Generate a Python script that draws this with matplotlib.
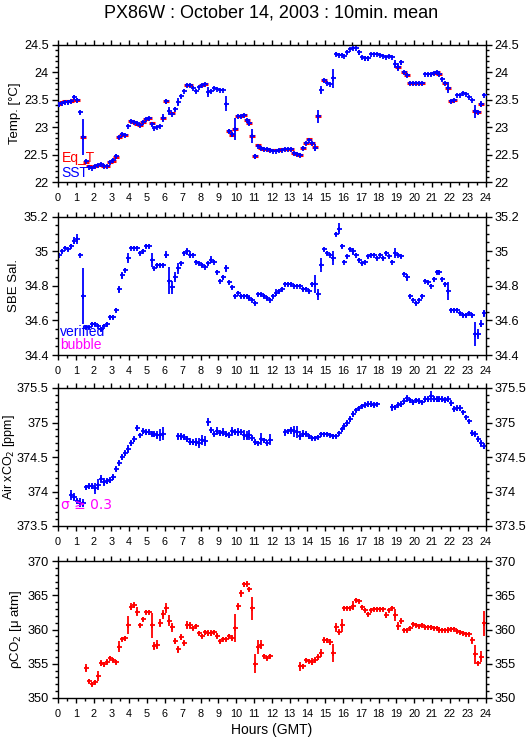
import numpy as np
import matplotlib
matplotlib.use("Agg")
import matplotlib.pyplot as plt
from matplotlib.ticker import MultipleLocator, FuncFormatter

N = None
# 10-minute slots (centre times in hours GMT)
hours = [i / 6 + 1 / 12 for i in range(144)]

sst = [23.42, 23.44, 23.46, 23.46, 23.48, 23.55, 23.50, 23.27, 22.82, 22.38, 22.28, 22.26,
       22.30, 22.32, 22.33, 22.29, 22.30, 22.36, 22.40, 22.47, 22.82, 22.87, 22.86, 23.03,
       23.11, 23.10, 23.07, 23.05, 23.09, 23.15, 23.17, 23.06, 22.99, 23.01, 23.02, 23.17,
       23.47, 23.30, 23.25, 23.33, 23.46, 23.56, 23.66, 23.77, 23.76, 23.72, 23.65, 23.73,
       23.77, 23.79, 23.64, 23.65, 23.72, 23.70, 23.67, 23.67, 23.43, 22.93, 22.87, 22.97,
       23.20, 23.21, 23.22, 23.13, 23.08, 22.84, 22.47, 22.66, 22.63, 22.61, 22.60, 22.58,
       22.57, 22.57, 22.58, 22.59, 22.60, 22.60, 22.60, 22.53, 22.51, 22.50, 22.63, 22.71,
       22.77, 22.71, 22.63, 23.20, 23.68, 23.85, 23.80, 23.78, 23.89, 24.33, 24.32, 24.32,
       24.30, 24.37, 24.42, 24.44, 24.44, 24.36, 24.27, 24.25, 24.25, 24.33, 24.33, 24.33,
       24.32, 24.30, 24.27, 24.30, 24.28, 24.15, 24.10, 24.18, 24.01, 23.95, 23.81, 23.81,
       23.81, 23.81, 23.81, 23.97, 23.96, 23.96, 23.99, 24.01, 23.97, 23.88, 23.81, 23.72,
       23.48, 23.49, 23.58, 23.58, 23.62, 23.60, 23.55, 23.50, 23.29, 23.27, 23.42, 23.59]

sst_err = [0.02, 0.02, 0.02, 0.03, 0.02, 0.04, 0.03, 0.03, 0.33, 0.02, 0.02, 0.02,
           0.02, 0.02, 0.02, 0.02, 0.02, 0.02, 0.02, 0.05, 0.02, 0.02, 0.02, 0.02,
           0.02, 0.02, 0.02, 0.02, 0.02, 0.02, 0.02, 0.03, 0.03, 0.02, 0.02, 0.07,
           0.04, 0.07, 0.03, 0.03, 0.08, 0.03, 0.02, 0.02, 0.02, 0.02, 0.03, 0.02,
           0.02, 0.02, 0.09, 0.03, 0.02, 0.02, 0.02, 0.02, 0.14, 0.03, 0.04, 0.20,
           0.02, 0.02, 0.02, 0.02, 0.03, 0.12, 0.04, 0.02, 0.02, 0.02, 0.02, 0.02,
           0.02, 0.02, 0.02, 0.02, 0.02, 0.02, 0.02, 0.02, 0.02, 0.03, 0.03, 0.02,
           0.02, 0.02, 0.06, 0.12, 0.07, 0.02, 0.02, 0.02, 0.17, 0.03, 0.03, 0.03,
           0.02, 0.03, 0.02, 0.02, 0.02, 0.04, 0.03, 0.04, 0.04, 0.02, 0.02, 0.02,
           0.02, 0.02, 0.02, 0.02, 0.02, 0.07, 0.07, 0.05, 0.02, 0.03, 0.02, 0.02,
           0.02, 0.02, 0.02, 0.02, 0.02, 0.02, 0.02, 0.02, 0.02, 0.04, 0.02, 0.10,
           0.02, 0.02, 0.02, 0.02, 0.02, 0.02, 0.02, 0.02, 0.12, 0.02, 0.06, 0.02]

eq_t = [23.43, 23.45, 23.47, 23.47, 23.48, 23.50, 23.49, N, 22.82, 22.36, 22.29, 22.27,
        22.30, 22.32, 22.32, 22.30, 22.30, 22.37, 22.39, 22.46, 22.82, 22.86, 22.86, N,
        23.11, 23.09, 23.06, 23.04, 23.09, 23.15, 23.17, 23.07, N, N, N, 23.17,
        23.47, N, 23.26, N, N, N, N, 23.77, 23.76, N, N, N,
        23.77, 23.78, N, N, N, N, N, N, N, 22.93, 22.86, 22.96,
        23.20, 23.21, 23.22, 23.13, 23.08, 22.84, 22.47, 22.67, 22.63, 22.61, 22.60, 22.59,
        22.58, 22.58, 22.59, 22.60, 22.60, 22.60, 22.60, 22.54, 22.51, 22.50, 22.63, 22.71,
        22.78, 22.71, 22.64, 23.20, N, 23.85, N, N, N, N, N, N,
        N, N, N, N, N, N, N, N, N, N, N, N,
        N, N, N, N, N, N, 24.10, N, 24.01, 23.95, 23.81, 23.81,
        23.81, 23.81, 23.81, N, N, N, 23.99, 24.01, 23.97, N, 23.81, 23.72,
        23.48, 23.49, N, N, N, N, N, N, 23.29, 23.27, 23.42, N]

sal = [34.98, 35.00, 35.02, 35.01, 35.03, 35.06, 35.07, 34.98, 34.74, 34.56, 34.56, 34.58,
       34.58, 34.57, 34.55, 34.57, 34.58, 34.62, 34.62, 34.66, 34.78, 34.86, 34.89, 34.96,
       35.02, 35.02, 35.02, 34.99, 35.00, 35.03, 35.03, 34.95, 34.90, 34.92, 34.92, 34.92,
       34.98, 34.83, 34.79, 34.85, 34.90, 34.93, 34.99, 35.00, 34.98, 34.98, 34.94, 34.93,
       34.92, 34.91, 34.93, 34.95, 34.94, 34.88, 34.83, 34.85, 34.90, 34.82, 34.79, 34.74,
       34.76, 34.74, 34.74, 34.74, 34.73, 34.72, 34.70, 34.75, 34.75, 34.74, 34.73, 34.72,
       34.74, 34.76, 34.77, 34.78, 34.81, 34.81, 34.81, 34.80, 34.80, 34.80, 34.78, 34.78,
       34.77, 34.81, 34.81, 34.75, 34.92, 35.01, 34.99, 34.98, 34.96, 35.10, 35.13, 35.03,
       34.94, 34.97, 35.01, 35.00, 34.98, 34.95, 34.93, 34.94, 34.97, 34.98, 34.98, 34.96,
       34.98, 34.96, 34.99, 34.97, 34.94, 34.99, 34.98, 34.97, 34.87, 34.85, 34.74, 34.72,
       34.70, 34.72, 34.74, 34.83, 34.82, 34.80, 34.84, 34.88, 34.88, 34.84, 34.81, 34.77,
       34.66, 34.66, 34.66, 34.64, 34.63, 34.63, 34.64, 34.63, 34.52, 34.52, 34.58, 34.64]

sal_err = [0.01, 0.01, 0.01, 0.01, 0.01, 0.02, 0.03, 0.01, 0.16, 0.01, 0.01, 0.01,
           0.01, 0.01, 0.01, 0.01, 0.01, 0.01, 0.01, 0.01, 0.02, 0.02, 0.01, 0.03,
           0.01, 0.01, 0.01, 0.01, 0.01, 0.01, 0.01, 0.04, 0.01, 0.01, 0.01, 0.01,
           0.02, 0.08, 0.04, 0.03, 0.03, 0.01, 0.01, 0.02, 0.02, 0.01, 0.01, 0.01,
           0.01, 0.01, 0.01, 0.02, 0.01, 0.01, 0.01, 0.01, 0.02, 0.01, 0.01, 0.01,
           0.01, 0.01, 0.01, 0.01, 0.01, 0.01, 0.01, 0.01, 0.01, 0.01, 0.01, 0.01,
           0.01, 0.02, 0.01, 0.01, 0.01, 0.01, 0.01, 0.01, 0.01, 0.01, 0.01, 0.01,
           0.01, 0.01, 0.05, 0.03, 0.04, 0.01, 0.01, 0.01, 0.04, 0.01, 0.03, 0.01,
           0.01, 0.01, 0.01, 0.02, 0.01, 0.01, 0.01, 0.01, 0.01, 0.01, 0.01, 0.01,
           0.01, 0.01, 0.01, 0.01, 0.01, 0.03, 0.01, 0.01, 0.01, 0.02, 0.01, 0.01,
           0.01, 0.01, 0.01, 0.01, 0.01, 0.01, 0.01, 0.01, 0.01, 0.01, 0.01, 0.05,
           0.01, 0.01, 0.01, 0.01, 0.01, 0.01, 0.01, 0.01, 0.07, 0.03, 0.02, 0.02]

xco2 = [N, N, N, N, 373.95, 373.92, 373.86, 373.84, 373.83, 374.06, 374.08, 374.08,
        374.05, 374.10, 374.18, 374.14, 374.15, 374.17, 374.21, 374.33, 374.42, 374.50, 374.56, 374.62,
        374.70, 374.76, 374.92, 374.82, 374.88, 374.86, 374.86, 374.84, 374.83, 374.82, 374.82, 374.84,
        N, N, N, N, 374.80, 374.80, 374.79, 374.76, 374.72, 374.72, 374.72, 374.70,
        374.75, 374.73, 375.01, 374.89, 374.84, 374.88, 374.85, 374.86, 374.83, 374.82, 374.87, 374.86,
        374.86, 374.86, 374.82, 374.81, 374.82, 374.78, 374.72, 374.70, 374.76, 374.74, 374.71, 374.75,
        N, N, N, N, 374.86, 374.87, 374.89, 374.87, 374.86, 374.81, 374.84, 374.84,
        374.80, 374.77, 374.77, 374.79, 374.83, 374.83, 374.83, 374.82, 374.80, 374.80, 374.85, 374.90,
        374.95, 375.00, 375.05, 375.12, 375.18, 375.21, 375.24, 375.26, 375.27, 375.27, 375.26, 375.27,
        N, N, N, N, 375.22, 375.22, 375.26, 375.27, 375.31, 375.35, 375.32, 375.29,
        375.32, 375.31, 375.30, 375.34, 375.34, 375.38, 375.34, 375.34, 375.34, 375.34, 375.33, 375.34,
        375.28, 375.20, 375.21, 375.21, 375.15, 375.08, 375.02, 374.85, 374.84, 374.76, 374.70, 374.66]

xco2_err = [0.04, 0.04, 0.04, 0.04, 0.07, 0.06, 0.04, 0.06, 0.06, 0.04, 0.04, 0.04,
            0.08, 0.08, 0.06, 0.06, 0.04, 0.04, 0.04, 0.04, 0.04, 0.04, 0.04, 0.06,
            0.04, 0.04, 0.05, 0.03, 0.04, 0.04, 0.04, 0.04, 0.04, 0.06, 0.09, 0.09,
            0.04, 0.04, 0.04, 0.04, 0.05, 0.05, 0.04, 0.04, 0.05, 0.04, 0.06, 0.07,
            0.07, 0.07, 0.06, 0.04, 0.04, 0.06, 0.04, 0.06, 0.04, 0.04, 0.06, 0.04,
            0.06, 0.04, 0.07, 0.07, 0.07, 0.04, 0.04, 0.03, 0.09, 0.04, 0.04, 0.08,
            0.04, 0.04, 0.04, 0.04, 0.05, 0.04, 0.05, 0.08, 0.09, 0.07, 0.05, 0.04,
            0.04, 0.03, 0.03, 0.03, 0.03, 0.03, 0.03, 0.03, 0.04, 0.03, 0.03, 0.04,
            0.04, 0.04, 0.04, 0.04, 0.03, 0.03, 0.03, 0.04, 0.04, 0.04, 0.04, 0.03,
            0.04, 0.04, 0.04, 0.04, 0.05, 0.03, 0.04, 0.04, 0.04, 0.05, 0.04, 0.04,
            0.04, 0.04, 0.03, 0.04, 0.04, 0.08, 0.04, 0.04, 0.04, 0.05, 0.04, 0.05,
            0.04, 0.04, 0.04, 0.05, 0.03, 0.03, 0.03, 0.04, 0.04, 0.04, 0.05, 0.05]

pco2 = [N, N, N, N, N, N, N, N, N, 354.4, 352.5, 352.1,
        352.4, 353.2, 355.1, 354.9, 355.3, 355.8, 355.6, 355.2, 357.5, 358.6, 358.7, 360.7,
        363.3, 363.6, 362.6, 360.6, 361.5, 362.6, 362.6, 360.6, 357.6, 357.8, 360.9, 362.2,
        363.1, 361.3, 360.3, 358.3, 357.1, 358.9, 358.1, 360.7, 360.6, 360.2, 360.5, 359.5,
        359.1, 359.6, 359.5, 359.5, 359.7, 359.1, 358.3, 358.6, 358.6, 359.1, 358.8, 360.2,
        363.4, 365.3, 366.6, 366.7, 365.9, 363.1, 355.0, 357.4, 357.8, 356.1, 355.8, 356.1,
        N, N, N, N, N, N, N, N, N, 354.6, 354.7, 355.6,
        355.4, 355.3, 355.6, 356.0, 356.6, 358.5, 358.4, 358.2, 356.6, 360.3, 359.7, 360.6,
        363.2, 363.2, 363.2, 363.5, 364.3, 364.1, 363.3, 362.8, 362.2, 362.8, 363.0, 363.0,
        363.0, 363.0, 362.1, 362.8, 363.2, 362.1, 360.5, 361.3, 359.9, 359.9, 360.2, 360.8,
        360.7, 360.5, 360.7, 360.4, 360.4, 360.3, 360.2, 360.2, 360.0, 359.9, 359.9, 360.0,
        360.1, 360.1, 359.8, 359.7, 359.5, 359.4, 359.4, 358.4, 356.4, 355.1, 356.0, 360.9]

pco2_err = [0.3, 0.3, 0.3, 0.3, 0.3, 0.3, 0.3, 0.3, 0.3, 0.6, 0.3, 0.3,
            0.3, 0.7, 0.4, 0.4, 0.4, 0.3, 0.3, 0.3, 0.8, 0.3, 0.4, 1.3,
            0.5, 0.4, 0.7, 0.3, 0.3, 0.3, 0.3, 1.8, 0.6, 0.6, 0.6, 0.6,
            0.7, 0.8, 0.6, 0.4, 0.5, 0.5, 0.4, 0.6, 0.5, 0.3, 0.3, 0.3,
            0.3, 0.4, 0.4, 0.4, 0.3, 0.4, 0.3, 0.3, 0.3, 0.3, 0.4, 2.0,
            0.5, 0.5, 0.4, 0.4, 0.3, 1.7, 1.4, 1.0, 0.6, 0.3, 0.3, 0.3,
            0.3, 0.3, 0.3, 0.3, 0.3, 0.3, 0.3, 0.3, 0.3, 0.6, 0.3, 0.3,
            0.3, 0.5, 0.4, 0.4, 0.6, 0.4, 0.4, 0.4, 1.3, 0.6, 0.4, 0.9,
            0.3, 0.3, 0.3, 0.6, 0.3, 0.3, 0.3, 0.3, 0.3, 0.3, 0.3, 0.3,
            0.3, 0.3, 0.4, 0.3, 0.3, 0.9, 0.6, 0.4, 0.3, 0.3, 0.3, 0.3,
            0.3, 0.3, 0.3, 0.3, 0.3, 0.3, 0.3, 0.3, 0.3, 0.3, 0.3, 0.3,
            0.3, 0.3, 0.3, 0.3, 0.3, 0.3, 0.3, 0.5, 1.4, 0.3, 0.8, 1.8]

def arr(v):
    return np.array([np.nan if x is None else x for x in v], dtype=float)

t = np.array(hours)
BLUE = (0, 0, 1)
RED = (1, 0, 0)
MAG = (1, 0, 1)

plt.rcParams['font.family'] = ['Liberation Sans', 'DejaVu Sans']

fig = plt.figure(figsize=(5.29, 7.39), dpi=100)
W, H = 529, 739
L, R = 58, 485.5
panels = [(44.7, 182.3), (216.5, 355), (388, 526), (561, 698)]
axes = []
for top, bot in panels:
    ax = fig.add_axes([L / W, 1 - bot / H, (R - L) / W, (bot - top) / H])
    axes.append(ax)

ylims = [(22, 24.5), (34.4, 35.2), (373.5, 375.5), (350, 370)]
majors = [0.5, 0.2, 0.5, 5]
minors = [0.1, 0.05, 0.1, 1]
ylabels = ['Temp. [°C]', 'SBE Sal.', 'Air xCO$_2$ [ppm]', 'ρCO$_2$ [μ atm]']
label_x = [-0.087, -0.089, -0.096, -0.080]
label_fs = [9.5, 9.5, 9.0, 9.5]

def fmt(v, pos):
    return ('%.2f' % v).rstrip('0').rstrip('.')

for ax, yl, mj, mn, lab, lx, lfs in zip(axes, ylims, majors, minors, ylabels, label_x, label_fs):
    ax.set_xlim(0, 24)
    ax.set_ylim(*yl)
    ax.xaxis.set_major_locator(MultipleLocator(1))
    ax.xaxis.set_minor_locator(MultipleLocator(0.5))
    ax.yaxis.set_major_locator(MultipleLocator(mj))
    ax.yaxis.set_minor_locator(MultipleLocator(mn))
    ax.yaxis.set_major_formatter(FuncFormatter(fmt))
    ax.tick_params(axis='x', which='both', direction='out', top=True, bottom=True,
                   labelsize=7.8, pad=4, width=1.0, colors='black')
    ax.tick_params(axis='x', which='major', length=3.8)
    ax.tick_params(axis='x', which='minor', length=2.0)
    ax.tick_params(axis='y', which='both', direction='out', left=True, right=True,
                   labelleft=True, labelright=True, labelsize=9.2, pad=2.5, width=1.0)
    ax.tick_params(axis='y', which='major', length=4.2)
    ax.tick_params(axis='y', which='minor', length=2.2)
    for sp in ax.spines.values():
        sp.set_linewidth(1.0)
    ax.set_ylabel(lab, fontsize=lfs)
    ax.yaxis.set_label_coords(lx, 0.5)

kw = dict(fmt='+', ms=3.6, mew=1.3, elinewidth=1.3, capsize=0)

# Panel 1
ax = axes[0]
ax.errorbar(t, arr(eq_t), fmt='_', ms=4.2, mew=2.2, color=RED, zorder=2)
ax.errorbar(t, arr(sst), yerr=arr(sst_err), color=BLUE, ecolor=BLUE, zorder=3, **kw)
ax.text(0.008, 0.18, 'Eq_T', color=RED, fontsize=10, transform=ax.transAxes, va='center')
ax.text(0.008, 0.065, 'SST', color=BLUE, fontsize=10, transform=ax.transAxes, va='center')

# Panel 2
ax = axes[1]
ax.errorbar(t, arr(sal), yerr=arr(sal_err), color=BLUE, ecolor=BLUE, **kw)
ax.text(0.005, 0.165, 'verified', color=BLUE, fontsize=10, transform=ax.transAxes, va='center')
ax.text(0.005, 0.07, 'bubble', color=MAG, fontsize=10, transform=ax.transAxes, va='center')

# Panel 3
ax = axes[2]
ax.errorbar(t, arr(xco2), yerr=arr(xco2_err), color=BLUE, ecolor=BLUE, **kw)
ax.text(0.008, 0.152, 'σ ≥ 0.3', color=MAG, fontsize=10, transform=ax.transAxes, va='center',
        family=['DejaVu Sans'])

# Panel 4
ax = axes[3]
ax.errorbar(t, arr(pco2), yerr=arr(pco2_err), color=RED, ecolor=RED, **kw)
ax.set_xlabel('Hours (GMT)', fontsize=10, labelpad=3)

fig.text(0.513, 1 - 13 / H, 'PX86W : October 14, 2003 : 10min. mean', ha='center', va='center',
         fontsize=13)

fig.savefig('out.png', dpi=100)
